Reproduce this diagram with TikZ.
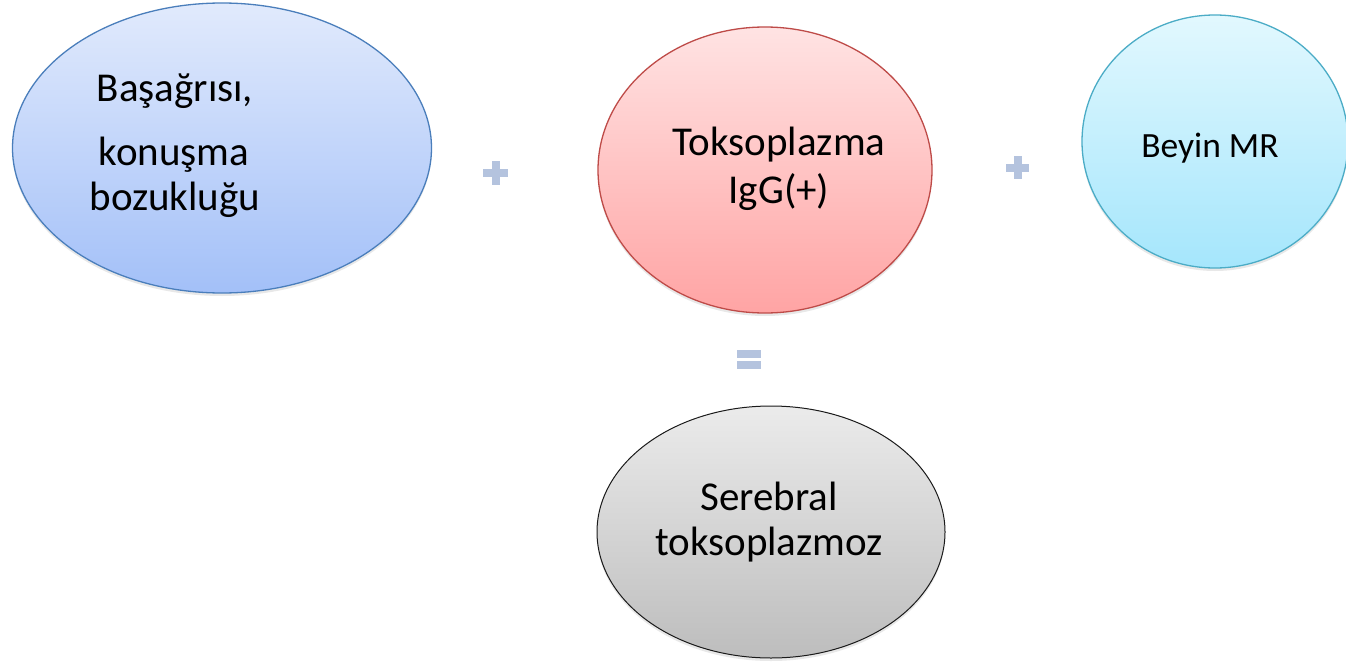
\documentclass[tikz,border=0pt]{standalone}
\usepackage{fontspec}
\setmainfont{Carlito}
\usetikzlibrary{shapes.geometric,shadows}
\definecolor{bluetop}{HTML}{E1EAFC}
\definecolor{bluebot}{HTML}{A3C0F8}
\definecolor{blueline}{HTML}{4A7EBB}
\definecolor{redtop}{HTML}{FFE3E3}
\definecolor{redbot}{HTML}{FFA4A4}
\definecolor{redline}{HTML}{BE4B48}
\definecolor{cyantop}{HTML}{E2F8FE}
\definecolor{cyanbot}{HTML}{A5E6FC}
\definecolor{cyanline}{HTML}{4BACC6}
\definecolor{graytop}{HTML}{EBEBEB}
\definecolor{graybot}{HTML}{BDBDBD}
\definecolor{grayline}{HTML}{1A1A1A}
\definecolor{opcol}{HTML}{B4C3DE}
\tikzset{
  bubble/.style={ellipse, inner sep=0pt, line width=1.3pt,
    drop shadow={shadow xshift=0pt, shadow yshift=-3pt, opacity=0.18}},
  label38/.style={align=center, inner sep=0pt, font=\fontsize{41}{49}\selectfont},
}
\begin{document}
\begin{tikzpicture}[x=1pt,y=-1pt]
\useasboundingbox[fill=white] (0,0) rectangle (1346,661);
% ellipses
\node[bubble, draw=blueline, top color=bluetop, bottom color=bluebot,
  minimum width=419pt, minimum height=290pt] (e1) at (222,148) {};
\node[bubble, draw=redline, top color=redtop, bottom color=redbot,
  minimum width=334pt, minimum height=286pt] (e2) at (765,170) {};
\node[bubble, draw=cyanline, top color=cyantop, bottom color=cyanbot,
  minimum width=266pt, minimum height=253pt] (e3) at (1215,141.5) {};
\node[bubble, draw=grayline, top color=graytop, bottom color=graybot,
  minimum width=348pt, minimum height=252pt, line width=1pt] (e4) at (771,532) {};
% texts
\node[label38, anchor=base] (t1a) at (175,101) {Başağrısı,};
\node[label38, anchor=base] (t1b) at (174,165) {konuşma};
\node[label38, anchor=base] (t1c) at (175,210) {bozukluğu};
\node[label38, anchor=base] (t2a) at (779,155) {Toksoplazma};
\node[label38, anchor=base] (t2b) at (779,203) {IgG(+)};
\node[label38, anchor=base, font=\fontsize{35.5}{43}\selectfont] (t3) at (1210,157) {Beyin MR};
\node[label38, anchor=base] (t4a) at (769,510) {Serebral};
\node[label38, anchor=base] (t4b) at (769,555) {toksoplazmoz};
% operators
\fill[opcol] (483,169) rectangle (508,177);
\fill[opcol] (492,161) rectangle (500,185);
\fill[opcol] (1006,164) rectangle (1029,172);
\fill[opcol] (1013.5,156) rectangle (1021.5,179);
\fill[opcol] (737,350) rectangle (761,358);
\fill[opcol] (737,361) rectangle (761,369);
\end{tikzpicture}
\end{document}
